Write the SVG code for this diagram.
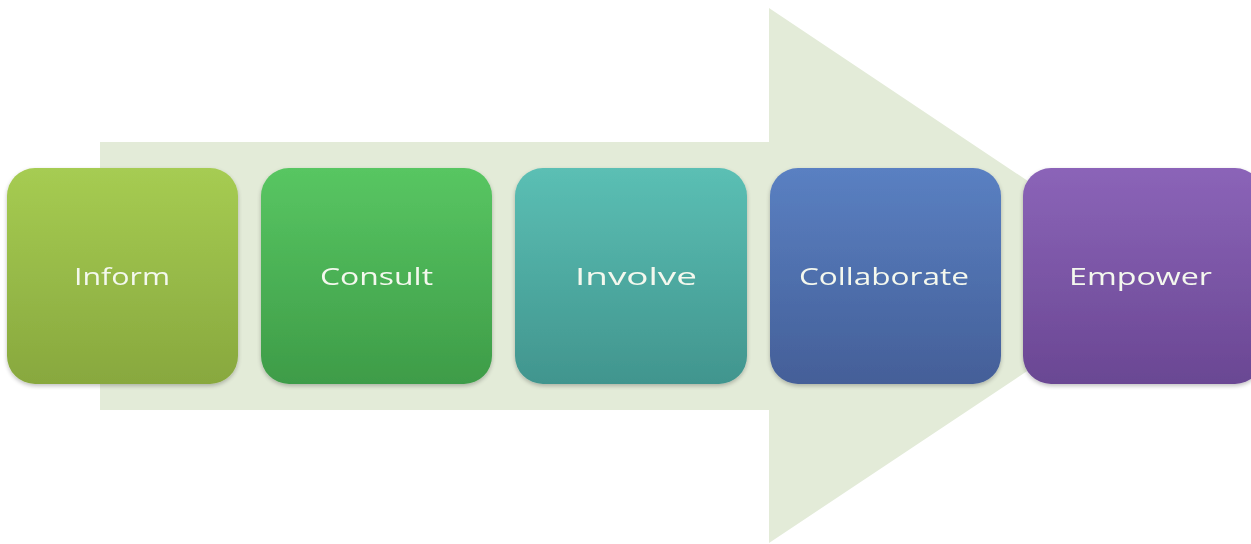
<svg xmlns="http://www.w3.org/2000/svg" width="1251" height="544" viewBox="0 0 1251 544">
<style>
.lbl{font-family:"Open Sans","Noto Sans","Liberation Sans",sans-serif;font-size:23px;fill:#f4f8ee;text-anchor:middle}
.box{filter:url(#sh)}
</style>
<defs>
<filter id="sh" x="-10%" y="-10%" width="120%" height="125%">
<feGaussianBlur in="SourceAlpha" stdDeviation="2"/>
<feOffset dy="2" result="b"/>
<feComponentTransfer><feFuncA type="linear" slope="0.25"/></feComponentTransfer>
<feMerge><feMergeNode/><feMergeNode in="SourceGraphic"/></feMerge>
</filter>
<linearGradient id="g1" x1="0" y1="0" x2="0" y2="1"><stop offset="0" stop-color="#a6cc52"/><stop offset="1" stop-color="#88a83e"/></linearGradient>
<linearGradient id="g2" x1="0" y1="0" x2="0" y2="1"><stop offset="0" stop-color="#58c662"/><stop offset="1" stop-color="#3e9c48"/></linearGradient>
<linearGradient id="g3" x1="0" y1="0" x2="0" y2="1"><stop offset="0" stop-color="#5bbfb4"/><stop offset="1" stop-color="#41958e"/></linearGradient>
<linearGradient id="g4" x1="0" y1="0" x2="0" y2="1"><stop offset="0" stop-color="#5a80c2"/><stop offset="1" stop-color="#445f98"/></linearGradient>
<linearGradient id="g5" x1="0" y1="0" x2="0" y2="1"><stop offset="0" stop-color="#8b64b8"/><stop offset="1" stop-color="#6a4793"/></linearGradient>
</defs>
<rect width="1251" height="544" fill="#ffffff"/>
<g id="arrow">
<polygon points="100,142 769,142 769,8 1170,276 769,543 769,410 100,410" fill="#e3ebd8"/>
</g>
<g id="connectors"></g>
<g id="inform" class="box"><rect x="7" y="168" width="231" height="216" rx="28" fill="url(#g1)"/><text class="lbl" x="122" y="285" textLength="96" lengthAdjust="spacingAndGlyphs">Inform</text></g>
<g id="consult" class="box"><rect x="261" y="168" width="231" height="216" rx="28" fill="url(#g2)"/><text class="lbl" x="376.5" y="285" textLength="113" lengthAdjust="spacingAndGlyphs">Consult</text></g>
<g id="involve" class="box"><rect x="515" y="168" width="232" height="216" rx="28" fill="url(#g3)"/><text class="lbl" x="636" y="285" textLength="122" lengthAdjust="spacingAndGlyphs">Involve</text></g>
<g id="collaborate" class="box"><rect x="770" y="168" width="231" height="216" rx="28" fill="url(#g4)"/><text class="lbl" x="884" y="285" textLength="170" lengthAdjust="spacingAndGlyphs">Collaborate</text></g>
<g id="empower" class="box"><rect x="1023" y="168" width="240" height="216" rx="28" fill="url(#g5)"/><text class="lbl" x="1140.5" y="285" textLength="143" lengthAdjust="spacingAndGlyphs">Empower</text></g>
</svg>
